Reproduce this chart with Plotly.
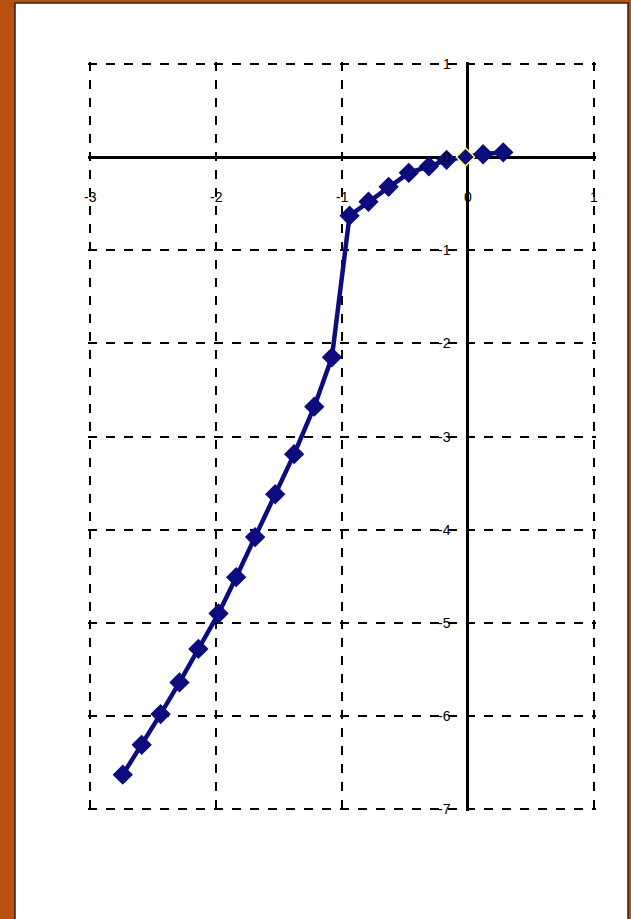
import plotly.graph_objects as go

# Data
x_vals = [-2.74, -2.59, -2.44, -2.29, -2.14, -1.98, -1.84, -1.69, -1.53, -1.38, -1.22, -1.08,
          -0.94, -0.79, -0.63, -0.47, -0.31, -0.17, -0.02, 0.12, 0.28]
y_vals = [-6.63, -6.31, -5.98, -5.64, -5.28, -4.90, -4.51, -4.08, -3.62, -3.19, -2.68, -2.15,
          -0.63, -0.48, -0.32, -0.17, -0.10, -0.03, 0.0, 0.03, 0.05]
x_ticks = [-3, -2, -1, 0, 1]
x_tick_text = ["-3", "-2", "-1", "0", "1"]
y_ticks = [1, 0, -1, -2, -3, -4, -5, -6, -7]
y_tick_text = ["1", "0", "-1", "-2", "-3", "-4", "-5", "-6", "-7"]

W, H = 631, 919
L, R, T, B = 88, 35, 62, 108
pw, ph = W - L - R, H - T - B

def px2paper_x(px):
    return (px - L) / pw

def py2paper_y(py):
    return (H - B - py) / ph

navy = "#0c0c7e"
line_cols = ["#ffff66" if abs(v) < 0.05 else navy for v in x_vals]

fig = go.Figure()
fig.add_trace(go.Scatter(
    x=x_vals, y=y_vals, mode="lines+markers",
    line=dict(color=navy, width=4.5),
    marker=dict(symbol="diamond", size=14, color=navy,
                line=dict(color=line_cols, width=1.5)),
    cliponaxis=False, showlegend=False,
))

annotations = []
tick_font = dict(family="Liberation Sans, Arial", size=14, color="black")
for v, t in zip(x_ticks, x_tick_text):
    annotations.append(dict(x=v, y=-0.43, xref="x", yref="y", text=t, showarrow=False,
                            font=tick_font, xanchor="center", yanchor="middle"))
for v, t in zip(y_ticks, y_tick_text):
    annotations.append(dict(x=-0.12, y=v, xref="x", yref="y", text=t, showarrow=False,
                            font=tick_font, xanchor="right", yanchor="middle"))
annotations.append(dict(x=0, y=1.27, xref="x", yref="y", text="y", showarrow=False,
                        font=tick_font, xanchor="center", yanchor="middle"))
annotations.append(dict(x=1.12, y=-1.53, xref="x", yref="y", text="x", showarrow=False,
                        font=tick_font, xanchor="center", yanchor="middle"))

shapes = [dict(type="rect", xref="paper", yref="paper",
               x0=px2paper_x(15), x1=px2paper_x(628), y0=py2paper_y(925), y1=py2paper_y(3),
               fillcolor="white", line=dict(color="#222222", width=1.5), layer="below")]

fig.update_layout(
    width=W, height=H, autosize=False,
    margin=dict(l=L, r=R, t=T, b=B),
    paper_bgcolor="#b8500e", plot_bgcolor="white",
    annotations=annotations, shapes=shapes,
    xaxis=dict(range=[-3.016, 1.016], tickvals=x_ticks, showticklabels=False,
               showgrid=True, gridcolor="black", griddash="dash", gridwidth=1.5,
               zeroline=True, zerolinecolor="black", zerolinewidth=3,
               showline=False, fixedrange=True),
    yaxis=dict(range=[-7.02, 1.02], tickvals=y_ticks, showticklabels=False,
               showgrid=True, gridcolor="black", griddash="dash", gridwidth=1.5,
               zeroline=True, zerolinecolor="black", zerolinewidth=3,
               showline=False, fixedrange=True),
)

fig.write_html("out.html", config={"displayModeBar": False},
               post_script="document.body.style.margin='0';document.body.style.overflow='hidden';")
